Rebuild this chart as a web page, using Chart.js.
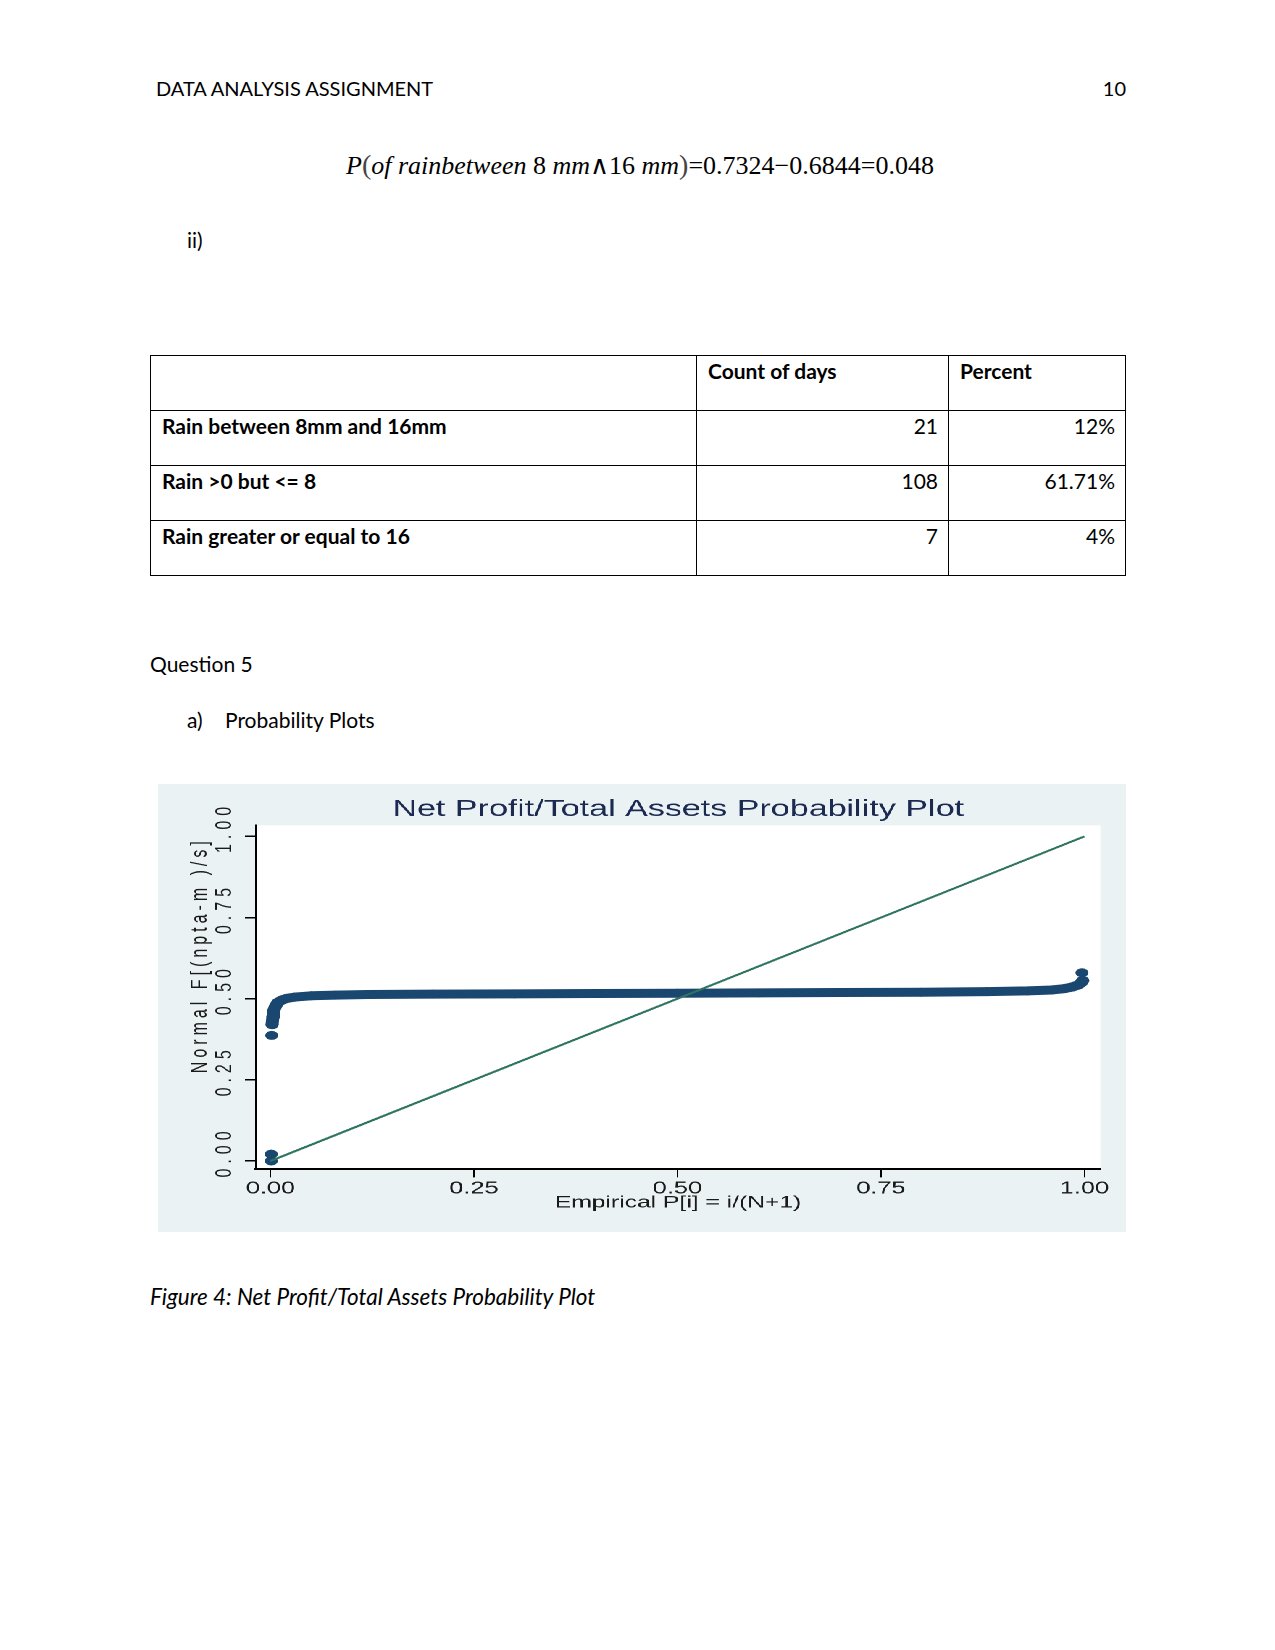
<!DOCTYPE html>
<html>
<head>
<meta charset="utf-8">
<script src="https://cdn.jsdelivr.net/npm/chart.js@4.4.1/dist/chart.umd.min.js"></script>
<style>
  html, body { margin: 0; padding: 0; background: #fff; }
  body { width: 1275px; height: 1650px; position: relative; overflow: hidden; font-family: Lato, "Noto Sans", sans-serif; font-size: 21px; color: #000; }
  .t { position: absolute; line-height: 26px; white-space: nowrap; }
  .eq { position: absolute; left: 346px; top: 147px; line-height: 36px; font-family: "Liberation Serif", serif; font-size: 26px; white-space: nowrap; }
  .eq i { font-style: italic; }
  .eq .p { font-size: 28px; font-weight: 100; color: #444; }
  table { position: absolute; left: 150px; top: 355px; border-collapse: collapse; table-layout: fixed; }
  td { border: 1px solid #000; height: 52px; padding: 2px 10px 0 11px; vertical-align: top; line-height: 26px; box-sizing: border-box; }
  td.n { text-align: right; }
  .b { font-weight: bold; }
  #panel { position: absolute; left: 158px; top: 784px; width: 668px; height: 448px; background: #eaf2f3; transform: scaleX(1.4491); transform-origin: 0 0; }
</style>
</head>
<body>
<div class="t" style="left:156px; top:75px; font-size:20px;">DATA ANALYSIS ASSIGNMENT</div>
<div class="t" style="right:149px; top:75px; font-size:20px;">10</div>

<div class="eq"><i>P</i><span class="p">(</span><i>of rain</i><i>between</i> 8 <i>mm</i>∧16 <i>mm</i><span class="p">)</span>=0.7324−0.6844=0.048</div>

<div class="t" style="left:187px; top:227px;">ii)</div>

<table>
  <colgroup><col style="width:546px"><col style="width:252px"><col style="width:177px"></colgroup>
  <tr style="height:55px"><td></td><td class="b">Count of days</td><td class="b">Percent</td></tr>
  <tr style="height:55px"><td class="b">Rain between 8mm and 16mm</td><td class="n">21</td><td class="n">12%</td></tr>
  <tr style="height:55px"><td class="b">Rain &gt;0 but &lt;= 8</td><td class="n">108</td><td class="n">61.71%</td></tr>
  <tr style="height:55px"><td class="b">Rain greater or equal to 16</td><td class="n">7</td><td class="n">4%</td></tr>
</table>

<div class="t" style="left:150px; top:651px;">Question 5</div>
<div class="t" style="left:187px; top:707px;">a)</div>
<div class="t" style="left:225px; top:707px;">Probability Plots</div>

<div id="panel"><canvas id="ppChart" width="668" height="448"></canvas></div>

<div class="t" style="left:150px; top:1284px; font-style:italic; font-size:22.5px;">Figure 4: Net Profit/Total Assets Probability Plot</div>

<script>
// tick positions on both axes
const xTicks = [0, 0.25, 0.5, 0.75, 1];
const yTicks = [0, 0.25, 0.5, 0.75, 1];

// reference line (normal = empirical)
const refX = [0, 1];
const refY = [0, 1];

// isolated observations in the tails
const tailX = [0.001, 0.001, 0.0015, 0.997];
const tailY = [0.0, 0.021, 0.387, 0.58];

// main body of the observations
const bandX = [0.002, 0.003, 0.004, 0.006, 0.009, 0.014, 0.02, 0.03, 0.05, 0.08, 0.12, 0.2, 0.3, 0.4,
    0.5, 0.6, 0.7, 0.8, 0.88, 0.93, 0.96, 0.975, 0.985, 0.992, 0.996, 0.998];
const bandY = [0.42, 0.445, 0.462, 0.476, 0.488, 0.496, 0.501, 0.505, 0.509, 0.511, 0.513, 0.514, 0.515, 0.516,
    0.517, 0.518, 0.519, 0.520, 0.522, 0.524, 0.527, 0.531, 0.536, 0.542, 0.549, 0.556];

const yTitle = 'Normal F[(npta-m )/s]';
const navy = '#1a476f';

const toPoints = (xs, ys) => xs.map((x, i) => ({ x: x, y: ys[i] }));

const plotArea = {
    id: 'plotArea',
    beforeDraw(chart) {
        const { ctx, chartArea } = chart;
        ctx.save();
        ctx.fillStyle = '#ffffff';
        ctx.fillRect(chartArea.left, chartArea.top, chartArea.right - chartArea.left, chartArea.bottom - chartArea.top);
        ctx.restore();
        // spaced-out rotated tick labels, like Stata draws them
        const s = chart.scales.y;
        if (!s._spaced) {
            const orig = s.drawLabels;
            s.drawLabels = function (area) {
                this.ctx.save();
                this.ctx.letterSpacing = '5px';
                orig.call(this, area);
                this.ctx.restore();
            };
            s._spaced = true;
        }
    },
    afterDraw(chart) {
        const { ctx, chartArea } = chart;
        ctx.save();
        ctx.font = '16px "Liberation Sans"';
        const natural = ctx.measureText(yTitle).width;
        const cy = (chartArea.top + chartArea.bottom) / 2;
        ctx.translate(chartArea.left - 38.6, cy + natural / 2);
        ctx.rotate(-Math.PI / 2);
        ctx.letterSpacing = '4px';
        ctx.fillStyle = '#1a1a1a';
        ctx.textAlign = 'left';
        ctx.textBaseline = 'middle';
        ctx.fillText(yTitle, 0, 0);
        ctx.restore();
    }
};

new Chart(document.getElementById('ppChart'), {
    type: 'scatter',
    data: {
        datasets: [
            {
                data: toPoints(refX, refY),
                showLine: true,
                borderColor: '#2e7461',
                borderWidth: 2,
                pointRadius: 0
            },
            {
                data: toPoints(tailX, tailY),
                backgroundColor: navy,
                pointRadius: 4.5,
                pointBorderWidth: 0
            },
            {
                data: toPoints(bandX, bandY),
                showLine: true,
                borderColor: navy,
                borderWidth: 9,
                borderCapStyle: 'round',
                borderJoinStyle: 'round',
                backgroundColor: navy,
                pointRadius: 4.5,
                pointBorderWidth: 0
            }
        ]
    },
    options: {
        responsive: false,
        animation: false,
        devicePixelRatio: 2,
        layout: { padding: { left: 0, right: 17.7, top: 0, bottom: 0 } },
        plugins: {
            legend: { display: false },
            tooltip: { enabled: false },
            title: {
                display: true,
                text: 'Net Profit/Total Assets Probability Plot',
                fullSize: false,
                color: '#1c2a52',
                font: { family: 'Liberation Sans', size: 23.5, weight: 'normal' },
                padding: { top: 11.6, bottom: 1.6 }
            }
        },
        scales: {
            x: {
                type: 'linear',
                min: -0.0178,
                max: 1.0196,
                afterBuildTicks: s => { s.ticks = xTicks.map(v => ({ value: v })); },
                afterFit: s => { s.height = 63; },
                ticks: {
                    callback: v => v.toFixed(2),
                    color: '#1a1a1a',
                    font: { family: 'Liberation Sans', size: 17.5 },
                    padding: 1,
                    maxRotation: 0,
                    autoSkip: false
                },
                grid: { drawOnChartArea: false, drawTicks: true, tickLength: 8.4, color: '#000', lineWidth: 1 },
                border: { display: true, color: '#000', width: 2 },
                title: {
                    display: true,
                    text: 'Empirical P[i] = i/(N+1)',
                    color: '#1a1a1a',
                    font: { family: 'Liberation Sans', size: 17 },
                    padding: { top: 0, bottom: 19 }
                }
            },
            y: {
                type: 'linear',
                min: -0.0247,
                max: 1.034,
                afterBuildTicks: s => { s.ticks = yTicks.map(v => ({ value: v })); },
                afterFit: s => { s.width = 67.6; },
                ticks: {
                    callback: v => v.toFixed(2),
                    color: '#1a1a1a',
                    font: { family: 'Liberation Sans', size: 16 },
                    minRotation: 90,
                    maxRotation: 90,
                    crossAlign: 'center',
                    padding: -1.7,
                    labelOffset: -9,
                    autoSkip: false
                },
                grid: { drawOnChartArea: false, drawTicks: true, tickLength: 7.6, color: '#000', lineWidth: 1.5 },
                border: { display: true, color: '#000', width: 1.4 },
                title: { display: false }
            }
        }
    },
    plugins: [plotArea]
});
</script>
</body>
</html>
